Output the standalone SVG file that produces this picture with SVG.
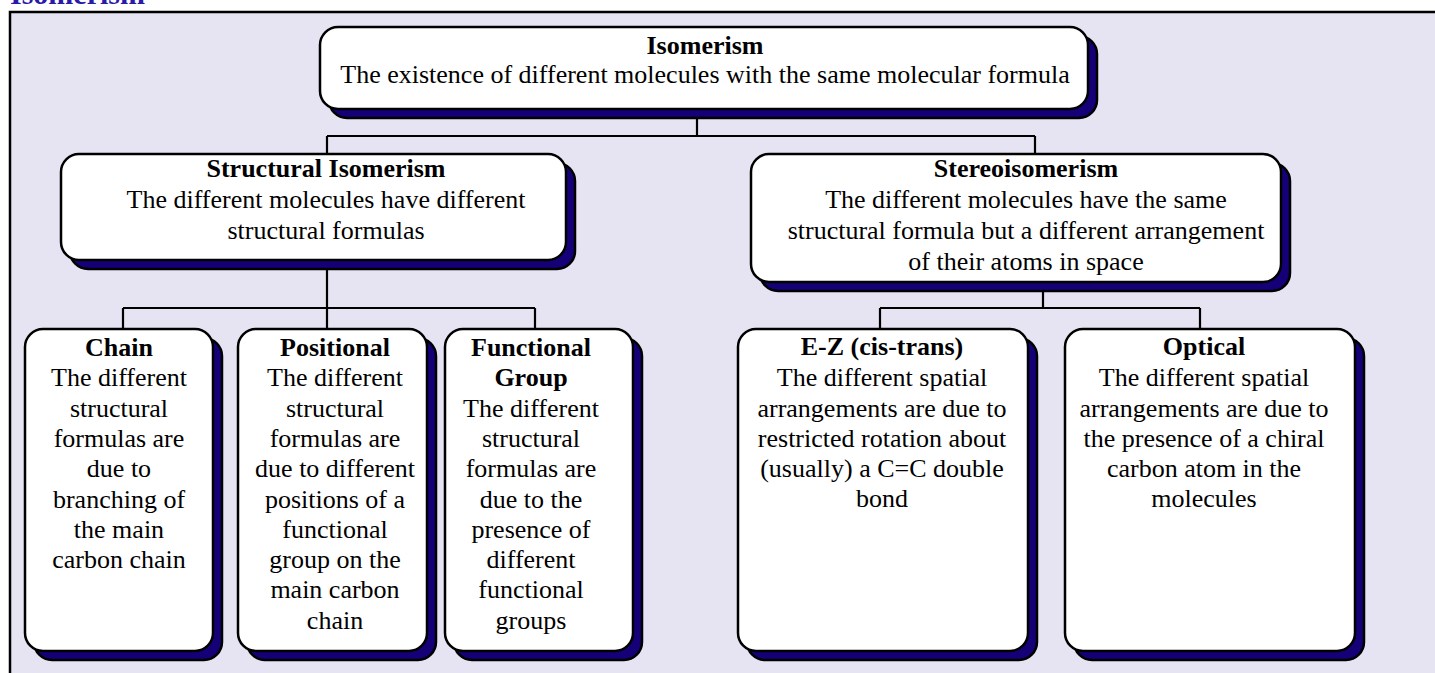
<svg xmlns="http://www.w3.org/2000/svg" width="1435" height="673" viewBox="0 0 1435 673">
<style>
.frame{fill:#E6E4F2;stroke:#000;stroke-width:2.5}
.sh{fill:#150078;stroke:#000;stroke-width:2.5}
.box{fill:#fff;stroke:#000;stroke-width:2.5}
.c{fill:none;stroke:#000;stroke-width:2.2}
.t{font-weight:bold}
</style>
<rect x="0" y="0" width="1435" height="673" fill="#fff"/>
<g font-family="'Liberation Serif', Tinos, 'Times New Roman', serif" font-size="26" text-anchor="middle" fill="#000">
<text x="10" y="4" font-size="30" font-weight="bold" fill="#2A1AA8" text-anchor="start">Isomerism</text>
<rect class="frame" x="10" y="12" width="1440" height="700"/>
<g id="connectors">
<path class="c" d="M697 110V136M327 136H1035M327 136V154M1035 136V154"/>
<path class="c" d="M327 260V329M123 308H535M123 308V329M535 308V329"/>
<path class="c" d="M1043 282V308M880 308H1200M880 308V329M1200 308V329"/>
</g>
<g id="n-isomerism">
<rect class="sh" x="329" y="36" width="768" height="82" rx="18"/>
<rect class="box" x="320" y="27" width="768" height="82" rx="18"/>
<text class="t" x="705" y="54">Isomerism</text>
<text x="705" y="83">The existence of different molecules with the same molecular formula</text>
</g>
<g id="n-structural">
<rect class="sh" x="70" y="163" width="505" height="106" rx="18"/>
<rect class="box" x="61" y="154" width="505" height="106" rx="18"/>
<text class="t" x="326" y="177">Structural Isomerism</text>
<text x="326" y="208">The different molecules have different</text>
<text x="326" y="239">structural formulas</text>
</g>
<g id="n-stereo">
<rect class="sh" x="760" y="163" width="530" height="128" rx="18"/>
<rect class="box" x="751" y="154" width="530" height="128" rx="18"/>
<text class="t" x="1026" y="177">Stereoisomerism</text>
<text x="1026" y="208">The different molecules have the same</text>
<text x="1026" y="239">structural formula but a different arrangement</text>
<text x="1026" y="270">of their atoms in space</text>
</g>
<g id="n-chain">
<rect class="sh" x="34" y="338" width="188" height="322" rx="18"/>
<rect class="box" x="25" y="329" width="188" height="322" rx="18"/>
<text class="t" x="119" y="356">Chain</text>
<text x="119" y="386">The different</text>
<text x="119" y="417">structural</text>
<text x="119" y="447">formulas are</text>
<text x="119" y="477">due to</text>
<text x="119" y="508">branching of</text>
<text x="119" y="538">the main</text>
<text x="119" y="568">carbon chain</text>
</g>
<g id="n-positional">
<rect class="sh" x="247" y="338" width="189" height="322" rx="18"/>
<rect class="box" x="238" y="329" width="189" height="322" rx="18"/>
<text class="t" x="335" y="356">Positional</text>
<text x="335" y="386">The different</text>
<text x="335" y="417">structural</text>
<text x="335" y="447">formulas are</text>
<text x="335" y="477">due to different</text>
<text x="335" y="508">positions of a</text>
<text x="335" y="538">functional</text>
<text x="335" y="568">group on the</text>
<text x="335" y="598">main carbon</text>
<text x="335" y="629">chain</text>
</g>
<g id="n-functional">
<rect class="sh" x="454" y="338" width="188" height="322" rx="18"/>
<rect class="box" x="445" y="329" width="188" height="322" rx="18"/>
<text class="t" x="531" y="356">Functional</text>
<text class="t" x="531" y="386">Group</text>
<text x="531" y="417">The different</text>
<text x="531" y="447">structural</text>
<text x="531" y="477">formulas are</text>
<text x="531" y="508">due to the</text>
<text x="531" y="538">presence of</text>
<text x="531" y="568">different</text>
<text x="531" y="598">functional</text>
<text x="531" y="629">groups</text>
</g>
<g id="n-ez">
<rect class="sh" x="747" y="338" width="290" height="322" rx="18"/>
<rect class="box" x="738" y="329" width="290" height="322" rx="18"/>
<text class="t" x="882" y="355">E-Z (cis-trans)</text>
<text x="882" y="386">The different spatial</text>
<text x="882" y="417">arrangements are due to</text>
<text x="882" y="447">restricted rotation about</text>
<text x="882" y="477">(usually) a C=C double</text>
<text x="882" y="507">bond</text>
</g>
<g id="n-optical">
<rect class="sh" x="1074" y="338" width="290" height="322" rx="18"/>
<rect class="box" x="1065" y="329" width="290" height="322" rx="18"/>
<text class="t" x="1204" y="355">Optical</text>
<text x="1204" y="386">The different spatial</text>
<text x="1204" y="417">arrangements are due to</text>
<text x="1204" y="447">the presence of a chiral</text>
<text x="1204" y="477">carbon atom in the</text>
<text x="1204" y="507">molecules</text>
</g>
</g>
</svg>
